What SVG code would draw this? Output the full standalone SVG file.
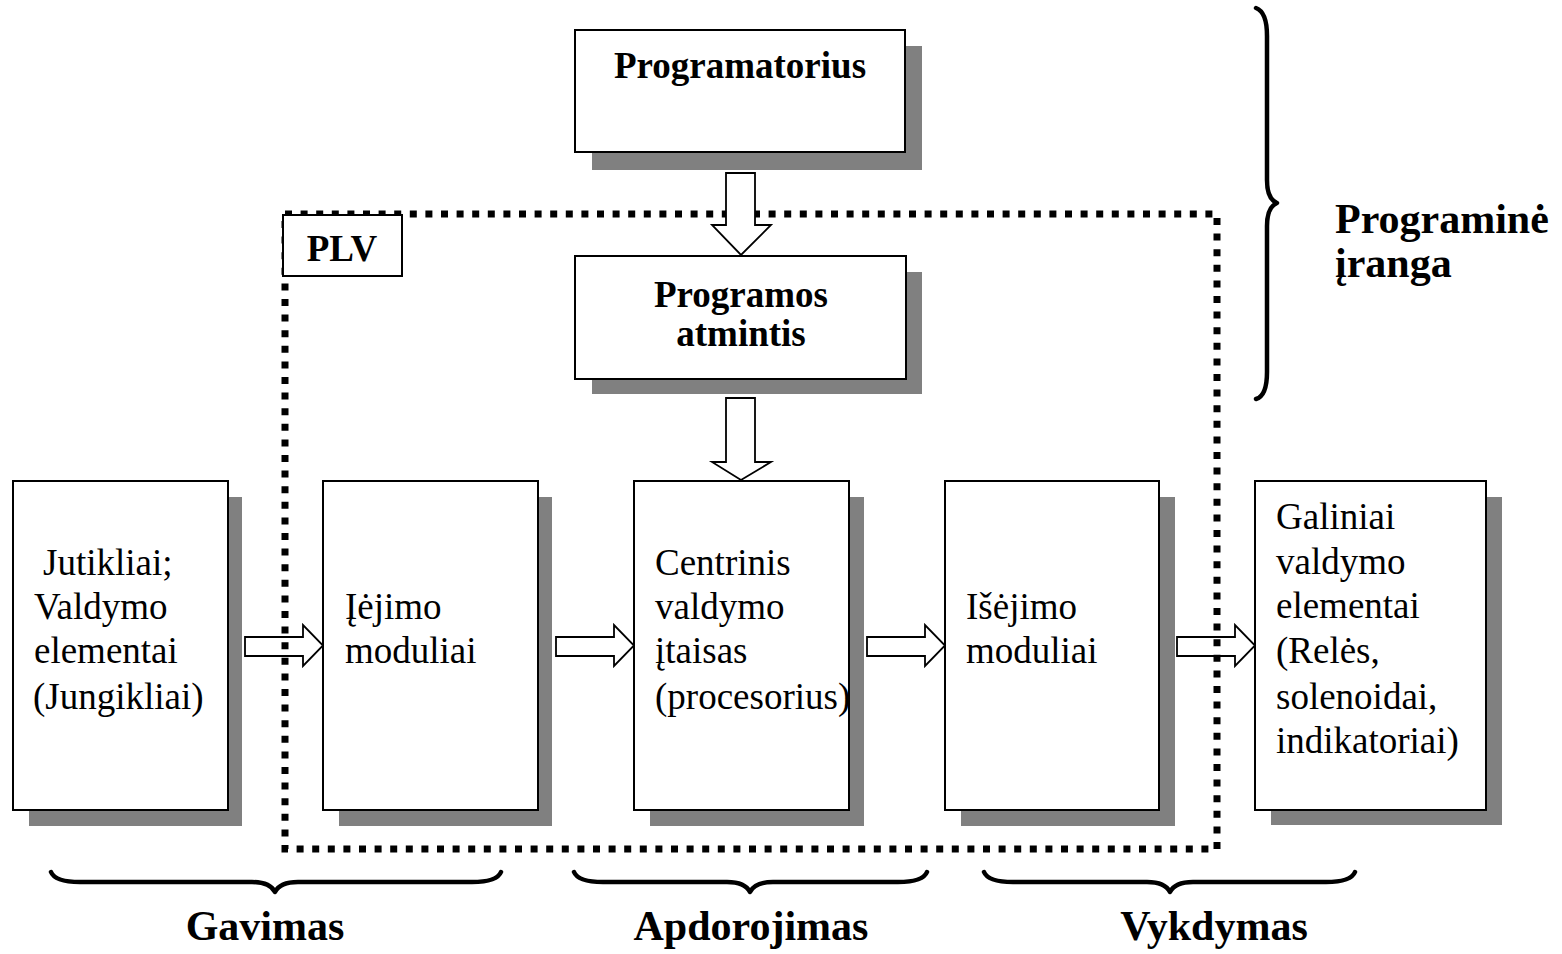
<svg xmlns="http://www.w3.org/2000/svg" width="1562" height="954" viewBox="0 0 1562 954">
  <style>
    .shadow { fill: #808080; }
    .box { fill: #ffffff; stroke: #000000; stroke-width: 2; }
    .arrow { fill: #ffffff; stroke: #000000; stroke-width: 1.8; stroke-linejoin: miter; }
    .frame { fill: none; stroke: #000000; stroke-width: 7; stroke-dasharray: 7 8.6; }
    .brace { fill: none; stroke: #000000; stroke-width: 4.5; stroke-linecap: round; stroke-linejoin: round; }
    .t { font-family: "Liberation Serif", "Times New Roman", serif; font-size: 37px; fill: #000000; }
    .b { font-family: "Liberation Serif", "Times New Roman", serif; font-size: 37px; font-weight: bold; fill: #000000; }
    .big { font-family: "Liberation Serif", "Times New Roman", serif; font-size: 42px; font-weight: bold; fill: #000000; }
  </style>

  <rect width="1562" height="954" fill="#ffffff"/>

  <!-- horizontal block arrows (drawn beneath the PLC frame) -->
  <g id="connectors-h">
    <path class="arrow" d="M245,637 H303 V625 L323,645.5 L303,666 V656 H245 Z"/>
    <path class="arrow" d="M556,637 H614 V625 L634,645.5 L614,666 V656 H556 Z"/>
    <path class="arrow" d="M867,637 H925 V625 L945,645.5 L925,666 V656 H867 Z"/>
    <path class="arrow" d="M1177,637 H1235 V625 L1255,645.5 L1235,666 V656 H1177 Z"/>
  </g>

  <!-- PLC boundary -->
  <g id="plv-frame">
    <rect class="frame" x="285" y="214" width="932" height="635"/>
  </g>

  <g id="plv-label">
    <rect class="box" x="283" y="215" width="119" height="61"/>
    <text class="b" x="342" y="261" text-anchor="middle">PLV</text>
  </g>

  <!-- vertical block arrows -->
  <g id="connectors-v">
    <path class="arrow" d="M726,173 H755 V225 H771 L741,255 L712,225 H726 Z"/>
    <path class="arrow" d="M726,398 H755 V462 H771 L741,480 L712,462 H726 Z"/>
  </g>

  <g id="programatorius">
    <rect class="shadow" x="592" y="46" width="330" height="124"/>
    <rect class="box" x="575" y="30" width="330" height="122"/>
    <text class="b" x="740" y="78" text-anchor="middle">Programatorius</text>
  </g>

  <g id="programos-atmintis">
    <rect class="shadow" x="592" y="272" width="330" height="122"/>
    <rect class="box" x="575" y="256" width="331" height="123"/>
    <text class="b" x="741" y="307" text-anchor="middle">Programos</text>
    <text class="b" x="741" y="346" text-anchor="middle">atmintis</text>
  </g>

  <g id="jutikliai">
    <rect class="shadow" x="29" y="497" width="213" height="329"/>
    <rect class="box" x="13" y="481" width="215" height="329"/>
    <text class="t" x="43" y="575">Jutikliai;</text>
    <text class="t" x="34" y="619">Valdymo</text>
    <text class="t" x="34" y="663">elementai</text>
    <text class="t" x="33" y="709">(Jungikliai)</text>
  </g>

  <g id="iejimo-moduliai">
    <rect class="shadow" x="339" y="497" width="213" height="329"/>
    <rect class="box" x="323" y="481" width="215" height="329"/>
    <text class="t" x="345" y="619">Įėjimo</text>
    <text class="t" x="345" y="663">moduliai</text>
  </g>

  <g id="centrinis">
    <rect class="shadow" x="650" y="497" width="214" height="329"/>
    <rect class="box" x="634" y="481" width="215" height="329"/>
    <text class="t" x="655" y="575">Centrinis</text>
    <text class="t" x="655" y="619">valdymo</text>
    <text class="t" x="655" y="663">įtaisas</text>
    <text class="t" x="655" y="709">(procesorius)</text>
  </g>

  <g id="isejimo-moduliai">
    <rect class="shadow" x="961" y="497" width="214" height="329"/>
    <rect class="box" x="945" y="481" width="214" height="329"/>
    <text class="t" x="966" y="619">Išėjimo</text>
    <text class="t" x="966" y="663">moduliai</text>
  </g>

  <g id="galiniai">
    <rect class="shadow" x="1271" y="497" width="231" height="328"/>
    <rect class="box" x="1255" y="481" width="231" height="329"/>
    <text class="t" x="1276" y="529">Galiniai</text>
    <text class="t" x="1276" y="574">valdymo</text>
    <text class="t" x="1276" y="618">elementai</text>
    <text class="t" x="1276" y="663">(Relės,</text>
    <text class="t" x="1276" y="709">solenoidai,</text>
    <text class="t" x="1276" y="753">indikatoriai)</text>
  </g>

  <!-- software bracket -->
  <g id="programine-iranga">
    <path class="brace" d="M1256,8 Q1267,12 1267,36 L1267,180 Q1267,199 1277,203 Q1267,207 1267,226 L1267,372 Q1267,396 1256,399"/>
    <text class="big" x="1335" y="233">Programinė</text>
    <text class="big" x="1335" y="277">įranga</text>
  </g>

  <!-- stage brackets -->
  <g id="gavimas">
    <path class="brace" d="M51,872 Q55,882 80,882 L252,882 Q270,882 275,892 Q280,882 298,882 L472,882 Q497,882 501,872"/>
    <text class="big" x="265" y="940" text-anchor="middle">Gavimas</text>
  </g>

  <g id="apdorojimas">
    <path class="brace" d="M574,872 Q578,882 603,882 L727,882 Q745,882 750,892 Q755,882 773,882 L898,882 Q923,882 927,872"/>
    <text class="big" x="751" y="940" text-anchor="middle">Apdorojimas</text>
  </g>

  <g id="vykdymas">
    <path class="brace" d="M984,872 Q988,882 1013,882 L1147,882 Q1165,882 1170,892 Q1175,882 1193,882 L1326,882 Q1351,882 1355,872"/>
    <text class="big" x="1214" y="940" text-anchor="middle">Vykdymas</text>
  </g>
</svg>
